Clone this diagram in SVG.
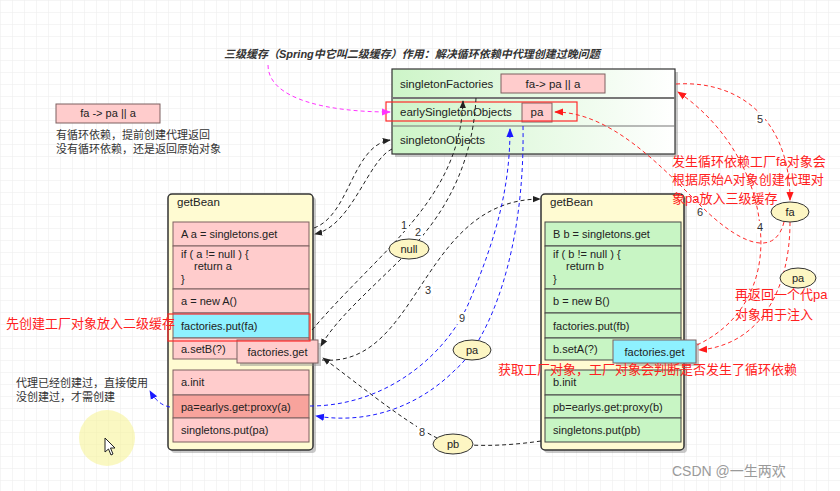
<svg xmlns="http://www.w3.org/2000/svg" width="840" height="491" viewBox="0 0 840 491">
<defs>
<pattern id="grid" width="12" height="12" patternUnits="userSpaceOnUse">
<path d="M12 0H0V12" fill="none" stroke="#ececec" stroke-width="1"/>
</pattern>
<linearGradient id="gbox" x1="0" y1="0" x2="1" y2="0">
<stop offset="0" stop-color="#cdf5c8"/>
<stop offset="1" stop-color="#ffffff"/>
</linearGradient>
<marker id="ab" viewBox="0 0 10 10" refX="9" refY="5" markerWidth="8" markerHeight="8" orient="auto" markerUnits="userSpaceOnUse"><path d="M0 1L10 5L0 9z" fill="#222"/></marker>
<marker id="abl" viewBox="0 0 10 10" refX="9" refY="5" markerWidth="9" markerHeight="9" orient="auto" markerUnits="userSpaceOnUse"><path d="M0 1L10 5L0 9z" fill="#1a1aff"/></marker>
<marker id="ar" viewBox="0 0 10 10" refX="9" refY="5" markerWidth="9" markerHeight="9" orient="auto" markerUnits="userSpaceOnUse"><path d="M0 1L10 5L0 9z" fill="#ff1a1a"/></marker>
<marker id="am" viewBox="0 0 10 10" refX="9" refY="5" markerWidth="9" markerHeight="9" orient="auto" markerUnits="userSpaceOnUse"><path d="M0 1L10 5L0 9z" fill="#ff33ff"/></marker>
</defs>
<style>
text{font-family:"Liberation Sans","Noto Sans CJK SC",sans-serif;fill:#222;}
.c{font-size:11px;}
.cn{font-size:11px;fill:#333;}
.red{font-size:13px;fill:#ff2020;}
.pk{fill:#ffcccc;stroke:#7d6060;stroke-width:1;}
.pk2{fill:#f8a39c;stroke:#7d6060;stroke-width:1;}
.gr{fill:#c8f5c4;stroke:#444;stroke-width:1;}
.cy{fill:#8ef1ff;stroke:#7d6060;stroke-width:1;}
.cont{fill:#fffbd2;stroke:#333;stroke-width:1.5;}
.sh{fill:#888;opacity:.45;}
.ell{fill:#fdf6c3;stroke:#333;stroke-width:1;}
.e{fill:none;stroke-width:1;stroke-dasharray:4 3;}
.k{stroke:#222;}
.b{stroke:#1a1aff;}
.r{stroke:#ff2a2a;}
.m{stroke:#ff33ff;}
.lbl{font-size:11px;fill:#333;}
.lb{fill:#fff;}
</style>
<rect width="840" height="491" fill="#fff"/>
<rect width="840" height="491" fill="url(#grid)"/>

<text x="224" y="58" style="font-size:11px;font-style:italic;font-weight:bold;fill:#333">三级缓存（Spring中它叫二级缓存）作用：解决循环依赖中代理创建过晚问题</text>

<g id="cache">
<rect x="395" y="72" width="283" height="85" class="sh"/>
<rect x="392" y="69" width="283" height="85" fill="url(#gbox)" stroke="#333" stroke-width="1.2"/>
<line x1="392" y1="98" x2="675" y2="98" stroke="#777" stroke-width="2"/>
<line x1="392" y1="126" x2="675" y2="126" stroke="#777" stroke-width="1.2"/>
<text x="400" y="88" style="font-size:11.5px">singletonFactories</text>
<rect x="501" y="74" width="104" height="19" class="pk" stroke="#999"/>
<text x="553" y="88" text-anchor="middle" style="font-size:11.5px">fa-&gt; pa || a</text>
<text x="400" y="116" style="font-size:11.5px">earlySingletonObjects</text>
<rect x="522" y="103" width="30" height="19" class="pk" stroke="#999"/>
<text x="537" y="116" text-anchor="middle" style="font-size:11.5px">pa</text>
<rect x="386" y="102" width="191" height="19" fill="none" stroke="#ff2a2a" stroke-width="1.2"/>
<text x="400" y="144" style="font-size:11.5px">singletonObjects</text>
</g>

<g id="legend">
<rect x="56" y="104" width="104" height="19" class="pk"/>
<text x="108" y="117" text-anchor="middle" class="c">fa -&gt; pa || a</text>
<text x="56" y="139" class="cn">有循环依赖，提前创建代理返回</text>
<text x="56" y="153" class="cn">没有循环依赖，还是返回原始对象</text>
</g>

<g id="getBeanA">
<rect x="171" y="197" width="145" height="256" rx="4" class="sh"/>
<rect x="168" y="194" width="145" height="256" rx="4" class="cont"/>
<text x="177" y="206" style="font-size:11.5px">getBean</text>
<rect x="173" y="222" width="136" height="24" class="pk"/>
<text x="181" y="238" class="c">A a = singletons.get</text>
<rect x="173" y="246" width="136" height="43" class="pk"/>
<text x="181" y="258" class="c">if ( a != null ) {</text>
<text x="194" y="270" class="c">return a</text>
<text x="181" y="283" class="c">}</text>
<rect x="173" y="289" width="136" height="24" class="pk"/>
<text x="181" y="305" class="c">a = new A()</text>
<rect x="173" y="313" width="136" height="25" class="cy"/>
<text x="181" y="330" class="c">factories.put(fa)</text>
<rect x="173" y="338" width="136" height="21" class="pk"/>
<text x="181" y="353" class="c">a.setB(?)</text>
<rect x="240" y="343" width="81" height="23" class="sh"/>
<rect x="237" y="340" width="81" height="23" class="pk" stroke="#999"/>
<text x="277.5" y="356" text-anchor="middle" class="c">factories.get</text>
<rect x="173" y="370" width="136" height="25" class="pk"/>
<text x="181" y="386" class="c">a.init</text>
<rect x="173" y="395" width="136" height="23" class="pk2"/>
<text x="181" y="411" class="c">pa=earlys.get:proxy(a)</text>
<rect x="173" y="418" width="136" height="24" class="pk"/>
<text x="181" y="434" class="c">singletons.put(pa)</text>
<rect x="168" y="314" width="142" height="27" fill="none" stroke="#ff2a2a" stroke-width="1.2"/>
</g>

<g id="getBeanB">
<rect x="544" y="197" width="143" height="256" rx="4" class="sh"/>
<rect x="541" y="194" width="143" height="256" rx="4" class="cont"/>
<text x="550" y="206" style="font-size:11.5px">getBean</text>
<rect x="545" y="222" width="136" height="24" class="gr"/>
<text x="553" y="238" class="c">B b = singletons.get</text>
<rect x="545" y="246" width="136" height="43" class="gr"/>
<text x="553" y="258" class="c">if ( b != null ) {</text>
<text x="566" y="270" class="c">return b</text>
<text x="553" y="283" class="c">}</text>
<rect x="545" y="289" width="136" height="24" class="gr"/>
<text x="553" y="305" class="c">b = new B()</text>
<rect x="545" y="313" width="136" height="25" class="gr"/>
<text x="553" y="330" class="c">factories.put(fb)</text>
<rect x="545" y="338" width="136" height="22" class="gr"/>
<text x="553" y="353" class="c">b.setA(?)</text>
<rect x="616" y="343" width="83" height="23" class="sh"/>
<rect x="613" y="340" width="83" height="23" class="cy" stroke="#ff2a2a"/>
<text x="654.5" y="356" text-anchor="middle" class="c">factories.get</text>
<rect x="545" y="370" width="136" height="25" class="gr"/>
<text x="553" y="386" class="c">b.init</text>
<rect x="545" y="395" width="136" height="23" class="gr"/>
<text x="553" y="411" class="c">pb=earlys.get:proxy(b)</text>
<rect x="545" y="418" width="136" height="24" class="gr"/>
<text x="553" y="434" class="c">singletons.put(pb)</text>
</g>

<g id="connectors">
<path class="e m" d="M268 65C268 100 330 112 390 112" marker-end="url(#am)"/>
<path class="e k" d="M314 228C350 215 352 146 390 140" marker-end="url(#ab)"/>
<path class="e k" d="M392 149C368 160 352 226 315 234" marker-end="url(#ab)"/>
<path class="e k" d="M312 330C380 250 460 200 463 101" marker-end="url(#ab)"/>
<path class="e k" d="M476 98C472 180 430 230 405 255C370 290 335 320 321 346" marker-end="url(#ab)"/>
<path class="e k" d="M322 360C420 368 420 200 540 199" marker-end="url(#ab)"/>
<path class="e k" d="M541 441C500 447 470 446 450 443C420 435 360 385 323 358" marker-end="url(#ab)"/>
<path class="e b" d="M310 406C390 406 450 350 470 300C495 240 510 190 510 129" marker-end="url(#abl)"/>
<path class="e b" d="M523 126C525 250 490 340 455 370C420 405 370 425 316 416" marker-end="url(#abl)"/>
<path class="e b" d="M170 407Q158 405 150 391" marker-end="url(#abl)"/>
<path class="e r" d="M697 345C750 320 765 270 760 227C755 170 720 120 678 92" marker-end="url(#ar)"/>
<path class="e r" d="M676 84C740 80 790 120 790 200" marker-end="url(#ar)"/>
<path class="e r" d="M784 222C775 258 740 245 700 205C660 165 610 112 555 112" marker-end="url(#ar)"/>
<path class="e r" d="M790 222C790 290 760 345 699 350" marker-end="url(#ar)"/>
<rect x="399" y="219" width="10" height="12" class="lb"/>
<text x="404" y="229" text-anchor="middle" class="lbl">1</text>
<rect x="413" y="226" width="10" height="12" class="lb"/>
<text x="418" y="236" text-anchor="middle" class="lbl">2</text>
<rect x="423" y="284" width="10" height="12" class="lb"/>
<text x="428" y="294" text-anchor="middle" class="lbl">3</text>
<rect x="457" y="312" width="10" height="12" class="lb"/>
<text x="462" y="322" text-anchor="middle" class="lbl">9</text>
<rect x="417" y="426" width="10" height="12" class="lb"/>
<text x="422" y="436" text-anchor="middle" class="lbl">8</text>
<rect x="755" y="113" width="10" height="12" class="lb"/>
<text x="760" y="123" text-anchor="middle" class="lbl">5</text>
<rect x="755" y="221" width="10" height="12" class="lb"/>
<text x="760" y="231" text-anchor="middle" class="lbl">4</text>
<text x="700" y="216" text-anchor="middle" class="lbl">6</text>
</g>

<g id="null"><ellipse cx="409" cy="249" rx="20" ry="10" class="ell"/><text x="409" y="253" text-anchor="middle" class="c">null</text></g>
<g id="paMid"><ellipse cx="472" cy="350" rx="19" ry="10" class="ell"/><text x="472" y="354" text-anchor="middle" class="c">pa</text></g>
<g id="pb"><ellipse cx="453" cy="444" rx="20" ry="10" class="ell"/><text x="453" y="448" text-anchor="middle" class="c">pb</text></g>
<g id="fa"><ellipse cx="790" cy="212" rx="19" ry="10" class="ell"/><text x="790" y="216" text-anchor="middle" class="c">fa</text></g>
<g id="paRight"><ellipse cx="798" cy="278" rx="18" ry="10" class="ell"/><text x="798" y="282" text-anchor="middle" class="c">pa</text></g>

<g id="notes">
<text x="6" y="328" class="red">先创建工厂对象放入二级缓存</text>
<text x="672" y="166" class="red">发生循环依赖工厂fa对象会</text>
<text x="672" y="184" class="red">根据原始A对象创建代理对</text>
<text x="672" y="203" class="red">象pa放入三级缓存</text>
<text x="735" y="299" class="red">再返回一个代pa</text>
<text x="735" y="319" class="red">对象用于注入</text>
<text x="498" y="374" class="red">获取工厂对象，工厂对象会判断是否发生了循环依赖</text>
<text x="16" y="387" class="cn">代理已经创建过，直接使用</text>
<text x="16" y="401" class="cn">没创建过，才需创建</text>
</g>

<circle cx="107" cy="438" r="28" fill="#f7f49a" opacity=".6"/>
<path d="M105 438L105 452L108.5 449L111 455L113 454L110.5 448L115 448Z" fill="#fff" stroke="#222" stroke-width="1"/>

<text x="672" y="476" style="font-size:14px;fill:#9a9a9a">CSDN @一生两欢</text>
</svg>
